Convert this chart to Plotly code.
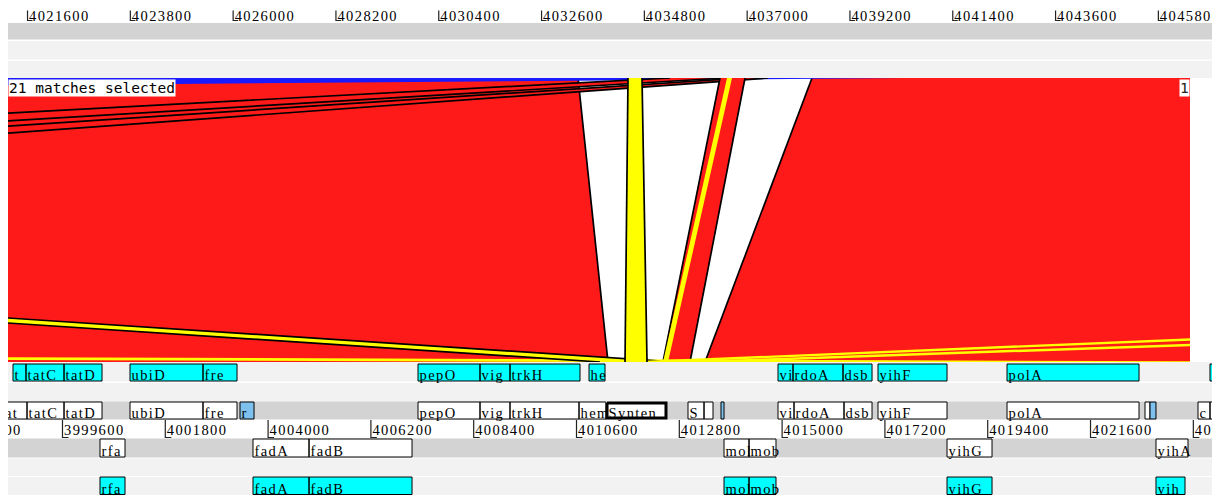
import plotly.graph_objects as go

# ---------------- data ----------------
top_ticks = [4019400, 4021600, 4023800, 4026000, 4028200, 4030400, 4032600,
             4034800, 4037000, 4039200, 4041400, 4043600, 4045800]
bot_ticks = [3997400, 3999600, 4001800, 4004000, 4006200, 4008400, 4010600,
             4012800, 4015000, 4017200, 4019400, 4021600, 4023800]

# bottom sequence: forward frame line (cyan)
ff_names = ["t", "tatC", "tatD", "ubiD", "fre", "pepO", "vig", "trkH", "he",
            "vi", "rdoA", "dsb", "yihF", "polA", ""]
ff_start = [3998541, 3998819, 3999633, 4001045, 4002607, 4007208, 4008535, 4009177, 4010868,
            4014912, 4015233, 4016303, 4017052, 4019813, 4024157]
ff_end = [3998819, 3999633, 4000446, 4002607, 4003335, 4008535, 4009177, 4010675, 4011210,
          4015233, 4016303, 4016924, 4018529, 4022638, 4026083]

# bottom sequence: forward strand line
fs_names = ["tat", "tatC", "tatD", "ubiD", "fre", "r", "pepO", "vig", "trkH", "hem",
            "Synten", "S", "", "", "vi", "rdoA", "dsb", "yihF", "polA", "", "", "c", ""]
fs_start = [3998220, 3998841, 3999633, 4001045, 4002607, 4003399, 4007208, 4008535, 4009177, 4010654,
            4011253, 4012986, 4013329, 4013692, 4014912, 4015255, 4016325, 4017052, 4019813,
            4022766, 4022873, 4023900, 4024157]
fs_end = [3998841, 3999633, 4000446, 4002607, 4003335, 4003699, 4008535, 4009177, 4010654, 4011231,
          4012515, 4013329, 4013521, 4013757, 4015255, 4016325, 4016924, 4018529, 4022638,
          4022873, 4023001, 4024157, 4026083]
fs_kind = ["CDS", "CDS", "CDS", "CDS", "CDS", "misc", "CDS", "CDS", "CDS", "CDS",
           "synteny", "CDS", "CDS", "misc", "CDS", "CDS", "CDS", "CDS", "CDS",
           "CDS", "misc", "CDS", "CDS"]

# bottom sequence: reverse strand line and reverse frame line
rv_names = ["rfa", "fadA", "fadB", "mol", "mob", "yihG", "yihA"]
rv_start = [4000403, 4003677, 4004876, 4013757, 4014292, 4018529, 4023001]
rv_end = [4000938, 4004876, 4007080, 4014292, 4014869, 4019492, 4023686]
rf_names = ["rfa", "fadA", "fadB", "mol", "mob", "yihG", "yih"]
rf_start = [4000403, 4003677, 4004876, 4013757, 4014292, 4018529, 4023001]
rf_end = [4000938, 4004876, 4007080, 4014292, 4014869, 4019492, 4023622]

# comparison matches (top sequence bp / bottom sequence bp)
match_top_start = [4014591, 4038388, 3978211, 4035349, 4036911, 4036419, 2298311,
                   3941596, 4181233, 4211364, 4034450, 4036569]
match_top_end = [4033380, 4055251, 4040335, 4036526, 4037446, 4036954, 2309011,
                 3943222, 4182517, 4212905, 4034750, 4036676]
match_bot_start = [3991843, 4013350, 3142263, 3897726, 3921159, 4012451, 4011103,
                   4011103, 4011403, 4012366, 4011638, 4012451]
match_bot_end = [4011274, 4032503, 3282155, 3912299, 3930810, 4013029, 4028223,
                 4012729, 4012687, 4013906, 4012109, 4012558]
match_color = ["red", "red", "blue", "red", "red", "red", "yellow",
               "yellow", "yellow", "yellow", "yellow", "yellow"]
match_outline = [True, True, False, True, True, True, False,
                 True, False, False, True, False]

# ---------------- layout constants ----------------
W, H = 1226, 495
BP_PX = 21.40
PX_L, PX_R, PX_CR = 8, 1212, 1190
TOP_LEFT_BP = 4021182
BOT_LEFT_BP = 3998434
top_range = [TOP_LEFT_BP, TOP_LEFT_BP + (PX_R - PX_L) * BP_PX]
bot_range = [BOT_LEFT_BP, BOT_LEFT_BP + (PX_R - PX_L) * BP_PX]
cmp_range = [TOP_LEFT_BP, TOP_LEFT_BP + (PX_CR - PX_L) * BP_PX]
SHIFT = TOP_LEFT_BP - BOT_LEFT_BP
Y_CMP_TOP, Y_CMP_BOT = 78, 362

DARK, LIGHT = "#d3d3d3", "#f2f2f2"
CYAN, LBLUE = "#00ffff", "#7ec0ee"
COLORS = {"red": "#ff1a1a", "yellow": "#ffff00", "blue": "#1a1aff"}
FS = 14.5
FONT = "Liberation Serif"
SPACING = 1.4

bands = [(23, 39.5, DARK), (41, 59.5, LIGHT), (61, 78, LIGHT),
         (362, 381.5, LIGHT), (383, 401.5, LIGHT), (401.5, 419.5, DARK),
         (438.5, 457.5, DARK), (458.5, 476, LIGHT), (477, 495, LIGHT)]

ROW_FF = (364, 381)
ROW_FS = (402, 419)
ROW_RV = (439, 457)
ROW_RF = (477, 494.5)

fig = go.Figure()


def box_trace(starts, ends, y0, y1, xa, fill, lw=1.0):
    xs, ys = [], []
    for s, e in zip(starts, ends):
        xs += [s, e, e, s, s, None]
        ys += [y0, y0, y1, y1, y0, None]
    return go.Scatter(x=xs, y=ys, xaxis=xa, yaxis="y", mode="lines", fill="toself",
                      fillcolor=fill, line=dict(color="black", width=lw),
                      hoverinfo="skip", showlegend=False)


def label_trace(names, xs, baseline, xa, pad_px):
    texts = ['<span style="letter-spacing:%.1fpx">%s</span>' % (SPACING, n) if n else ""
             for n in names]
    return go.Scatter(x=[v + pad_px * BP_PX for v in xs], y=[baseline - 0.25 * FS] * len(xs),
                      text=texts, mode="text", textposition="middle right",
                      textfont=dict(family=FONT, size=FS, color="black"),
                      xaxis=xa, yaxis="y", hoverinfo="skip", showlegend=False)


def tick_trace(ticks, y0, y1, foot_px, xa):
    xs, ys = [], []
    for t in ticks:
        xs += [t, t, t + foot_px * BP_PX, None]
        ys += [y0, y1, y1, None]
    return go.Scatter(x=xs, y=ys, xaxis=xa, yaxis="y", mode="lines",
                      line=dict(color="#222222", width=1.2), hoverinfo="skip", showlegend=False)


# ---- top sequence ruler ----
fig.add_trace(tick_trace(top_ticks, 10.5, 20.5, 5, "x"))
fig.add_trace(label_trace([str(t) for t in top_ticks], top_ticks, 20.5, "x", 1.5))

# ---- bottom sequence features ----
fig.add_trace(box_trace(ff_start, ff_end, ROW_FF[0], ROW_FF[1], "x3", CYAN))
fig.add_trace(label_trace(ff_names, ff_start, 379.5, "x3", 1.5))

cds_s = [s for s, k in zip(fs_start, fs_kind) if k == "CDS"]
cds_e = [e for e, k in zip(fs_end, fs_kind) if k == "CDS"]
misc_s = [s for s, k in zip(fs_start, fs_kind) if k == "misc"]
misc_e = [e for e, k in zip(fs_end, fs_kind) if k == "misc"]
syn_s = [s for s, k in zip(fs_start, fs_kind) if k == "synteny"]
syn_e = [e for e, k in zip(fs_end, fs_kind) if k == "synteny"]
fig.add_trace(box_trace(cds_s, cds_e, ROW_FS[0], ROW_FS[1], "x3", "white"))
fig.add_trace(box_trace(misc_s, misc_e, ROW_FS[0], ROW_FS[1], "x3", LBLUE))
fig.add_trace(box_trace(syn_s, syn_e, ROW_FS[0] + 1, ROW_FS[1] - 1, "x3", "white", lw=3))
fig.add_trace(label_trace(fs_names, fs_start, 417.5, "x3", 1.5))

fig.add_trace(tick_trace(bot_ticks, 420, 437.5, 6, "x3"))
fig.add_trace(label_trace([str(t) for t in bot_ticks], bot_ticks, 434.5, "x3", 1.5))

fig.add_trace(box_trace(rv_start, rv_end, ROW_RV[0], ROW_RV[1], "x3", "white"))
fig.add_trace(label_trace(rv_names, rv_start, 455.5, "x3", 1.5))
fig.add_trace(box_trace(rf_start, rf_end, ROW_RF[0], ROW_RF[1], "x3", CYAN))
fig.add_trace(label_trace(rf_names, rf_start, 493.5, "x3", 1.5))

# ---- comparison matches ----
for i in range(len(match_top_start)):
    ts, te = match_top_start[i], match_top_end[i]
    bs, be = match_bot_start[i] + SHIFT, match_bot_end[i] + SHIFT
    fig.add_trace(go.Scatter(x=[ts, te, be, bs, ts], y=[1, 1, 0, 0, 1], mode="lines",
                             fill="toself", fillcolor=COLORS[match_color[i]],
                             line=dict(width=0), xaxis="x2", yaxis="y2",
                             hoverinfo="skip", showlegend=False))
    if match_outline[i]:
        fig.add_trace(go.Scatter(x=[ts, bs, None, te, be], y=[1, 0, None, 1, 0], mode="lines",
                                 line=dict(color="black", width=1.7), xaxis="x2", yaxis="y2",
                                 hoverinfo="skip", showlegend=False))

shapes = [dict(type="rect", xref="paper", yref="y", x0=PX_L / W, x1=PX_R / W, y0=a, y1=b,
               fillcolor=c, line=dict(width=0), layer="below") for a, b, c in bands]

annotations = [
    dict(text="21 matches selected", xref="paper", yref="paper", x=PX_L / W, y=1 - 79 / H,
         xanchor="left", yanchor="top", showarrow=False, bgcolor="white", borderpad=0,
         font=dict(family="DejaVu Sans Mono", size=14.5, color="black")),
    dict(text="1", xref="paper", yref="paper", x=PX_CR / W, y=1 - 79 / H,
         xanchor="right", yanchor="top", showarrow=False, bgcolor="white", borderpad=0,
         font=dict(family="DejaVu Sans Mono", size=14.5, color="#222222")),
]

fig.update_layout(
    width=W, height=H, autosize=False,
    margin=dict(l=0, r=0, t=0, b=0),
    paper_bgcolor="white", plot_bgcolor="rgba(0,0,0,0)",
    showlegend=False, hovermode=False,
    xaxis=dict(domain=[PX_L / W, PX_R / W], range=top_range, visible=False, fixedrange=True),
    xaxis3=dict(overlaying="x", anchor="y", range=bot_range, visible=False, fixedrange=True),
    yaxis=dict(domain=[0, 1], range=[H, 0], visible=False, fixedrange=True),
    xaxis2=dict(domain=[PX_L / W, PX_CR / W], range=cmp_range, anchor="y2", visible=False, fixedrange=True),
    yaxis2=dict(domain=[1 - Y_CMP_BOT / H, 1 - Y_CMP_TOP / H], range=[0, 1], anchor="x2",
                visible=False, fixedrange=True),
    shapes=shapes,
    annotations=annotations,
)

fig.write_html("out.html", config={"displayModeBar": False})
